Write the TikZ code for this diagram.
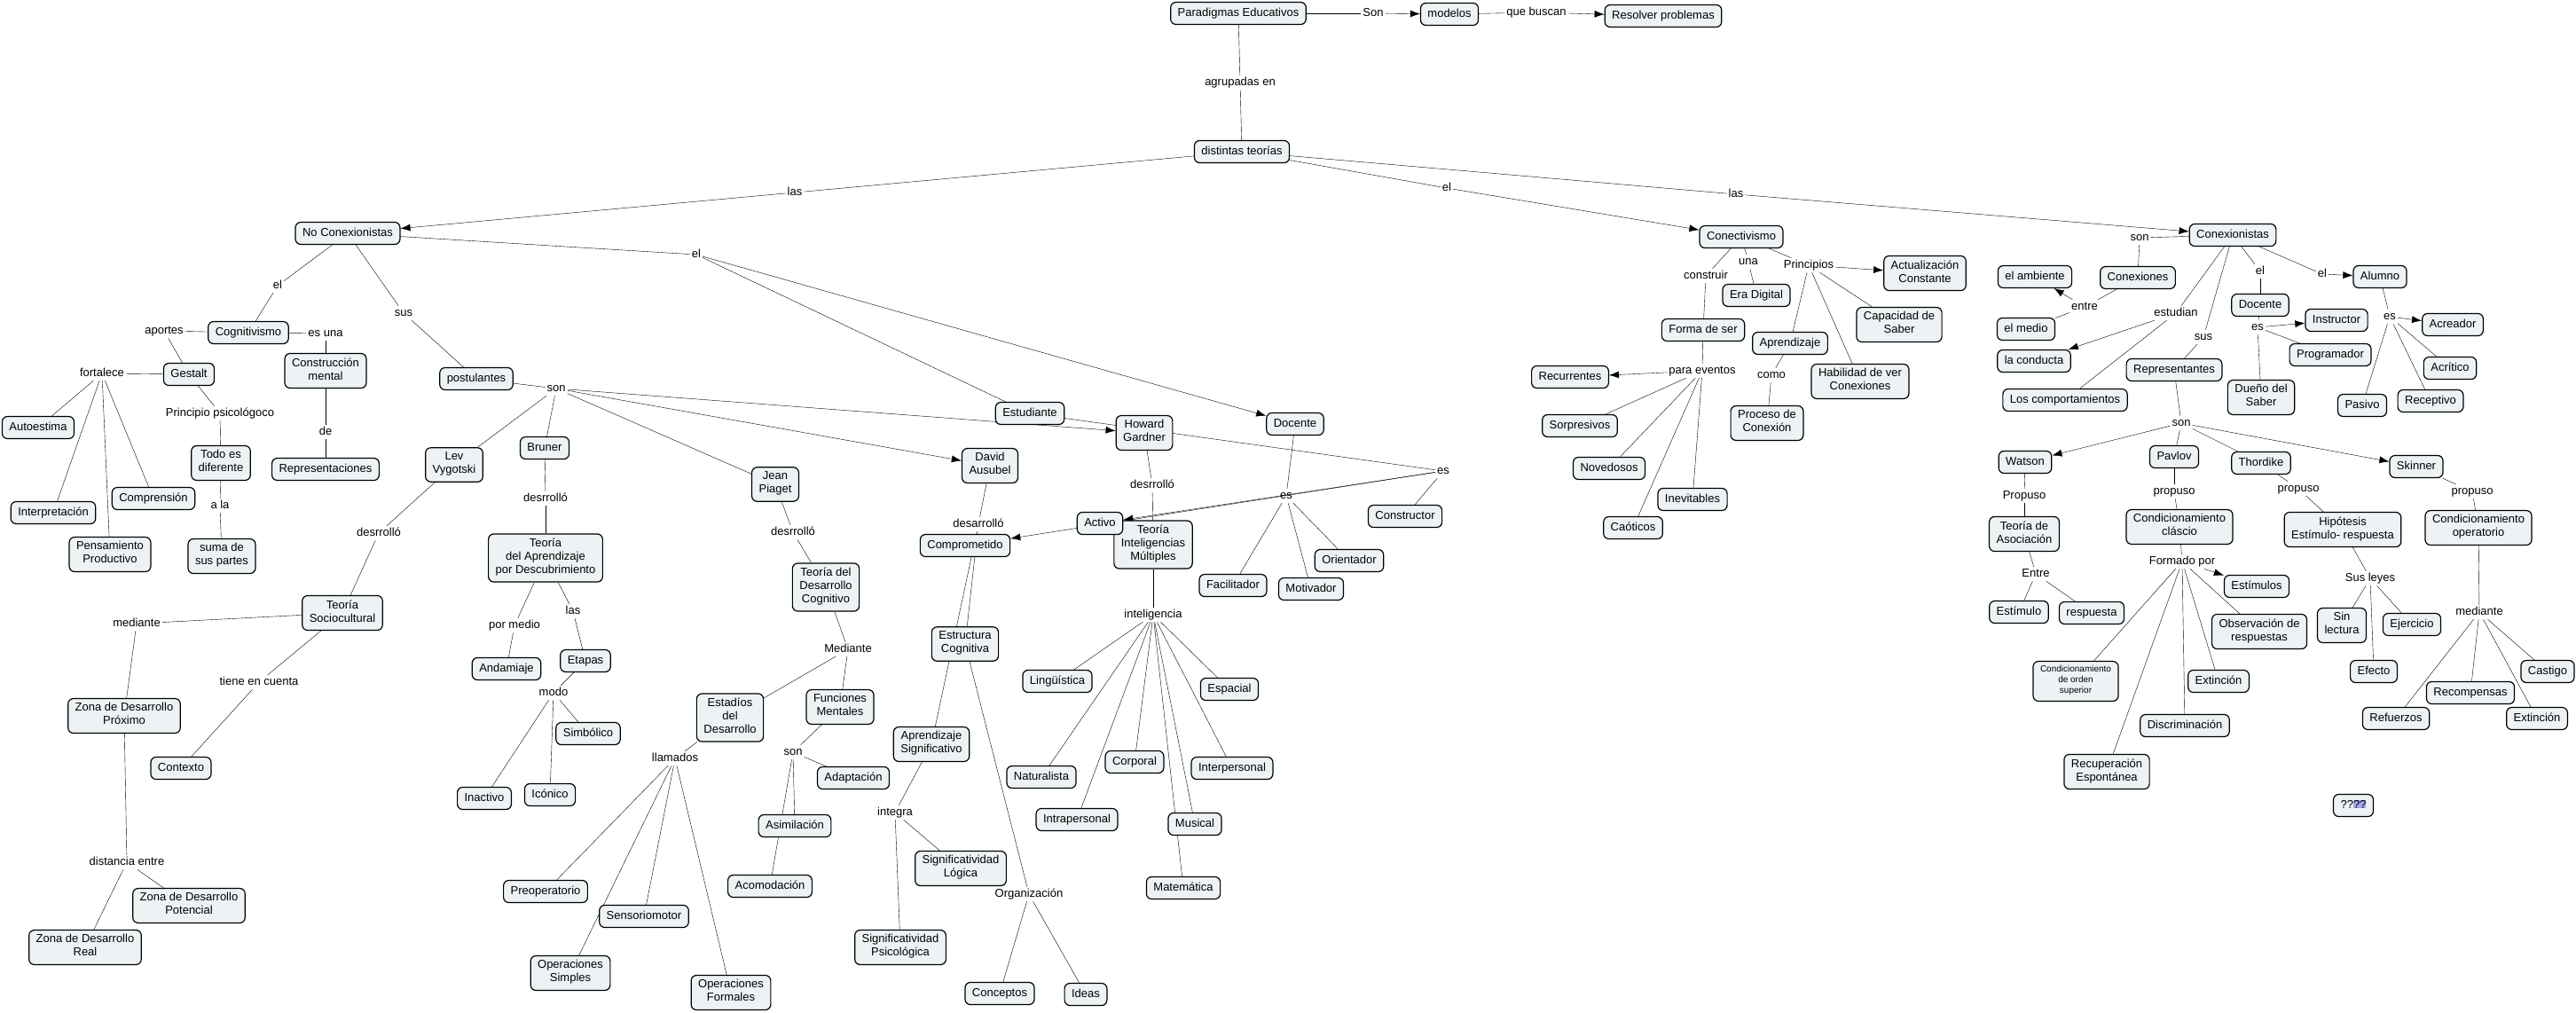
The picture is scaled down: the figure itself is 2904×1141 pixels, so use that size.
\documentclass[tikz,border=0pt]{standalone}
\usepackage{fontspec}
\setmainfont{Liberation Sans}
\usepackage{tikz}
\usetikzlibrary{arrows.meta}
\tikzset{>={Latex[length=11pt,width=8pt]}}
\definecolor{cmapfill}{RGB}{237,243,245}
\definecolor{hilite}{RGB}{166,166,242}
\newcommand{\cmapfont}{\fontsize{13}{15}\selectfont}
\newcommand{\smallcmap}{\fontsize{10}{12}\selectfont}
\pgfdeclarelayer{bg}
\pgfsetlayers{bg,main}
\tikzset{
  concept/.style={draw, rounded corners=6pt, fill=cmapfill, inner xsep=8pt, inner ysep=5pt,
    align=center, font=\cmapfont, execute at begin node=\strut, execute at end node=\strut},
  phrase/.style={inner sep=1.5pt, text height=9.5pt, text depth=2.8pt, align=center, font=\cmapfont}
}

\begin{document}
\begin{tikzpicture}[x=1pt, y=-1pt, line width=1.2pt]
  \useasboundingbox (0,0) rectangle (2904,1141);
  % top of the map
  \node[concept] (paradigmas) at (1396,15) {Paradigmas Educativos};
  \node[phrase] (lSon) at (1548,15) {Son};
  \node[concept] (modelos) at (1634,16) {modelos};
  \node[phrase] (lBuscan) at (1732,14) {que buscan};
  \node[concept] (resolver) at (1875,18) {Resolver problemas};
  \node[phrase] (lAgrupadas) at (1398,93) {agrupadas en};
  \node[concept] (distintas) at (1400,171) {distintas teorías};
  \node[phrase] (lLasL) at (896,217) {las};
  \node[phrase] (lElC) at (1631,212) {el};
  \node[phrase] (lLasR) at (1957,219) {las};

  % no conexionistas
  \node[concept] (nocon) at (392,263) {No Conexionistas};
  \node[phrase] (lElCog) at (313,322) {el};
  \node[phrase] (lSus) at (455,353) {sus};
  \node[phrase] (lElEst) at (785,287) {el};
  \node[concept] (cognitivismo) at (280,375) {Cognitivismo};
  \node[phrase] (lAportes) at (185,373) {aportes};
  \node[phrase] (lEsUna) at (367,376) {es una};
  \node[concept] (gestalt) at (213,422) {Gestalt};
  \node[phrase] (lFortalece) at (115,421) {fortalece};
  \node[concept] (construccion) at (367,418) {Construcción\\mental};
  \node[phrase] (lDe) at (367,487) {de};
  \node[concept] (representaciones) at (367,529) {Representaciones};
  \node[concept] (autoestima) at (43,482) {Autoestima};
  \node[concept] (interpretacion) at (60,578) {Interpretación};
  \node[concept] (comprension) at (173,562) {Comprensión};
  \node[concept] (pensamiento) at (124,625) {Pensamiento\\Productivo};
  \node[phrase] (lPrincipio) at (248,466) {Principio psicológoco};
  \node[concept] (todo) at (249,522) {Todo es\\diferente};
  \node[phrase] (lALa) at (248,570) {a la};
  \node[concept] (suma) at (250,627) {suma de\\sus partes};

  % postulantes
  \node[concept] (postulantes) at (537,427) {postulantes};
  \node[phrase] (lSonP) at (627,438) {son};
  \node[concept] (vygotski) at (512,524) {Lev\\Vygotski};
  \node[concept] (bruner) at (614,505) {Bruner};
  \node[concept] (piaget) at (874,546) {Jean\\Piaget};
  \node[concept] (ausubel) at (1116,525) {David\\Ausubel};
  \node[concept] (gardner) at (1290,488) {Howard\\Gardner};

  % Vygotski
  \node[phrase] (lDesVyg) at (427,601) {desrrolló};
  \node[concept] (sociocultural) at (386,691) {Teoría\\Sociocultural};
  \node[phrase] (lMediante) at (154,703) {mediante};
  \node[phrase] (lTiene) at (292,769) {tiene en cuenta};
  \node[concept] (zdp) at (140,807) {Zona de Desarrollo\\Próximo};
  \node[concept] (contexto) at (204,866) {Contexto};
  \node[phrase] (lDistancia) at (143,972) {distancia entre};
  \node[concept] (zdpot) at (213,1021) {Zona de Desarrollo\\Potencial};
  \node[concept] (zdreal) at (96,1068) {Zona de Desarrollo\\Real};

  % Bruner
  \node[phrase] (lDesBru) at (615,562) {desrrolló};
  \node[concept] (descubrimiento) at (615,629) {Teoría\\del Aprendizaje\\por Descubrimiento};
  \node[phrase] (lPorMedio) at (580,705) {por medio};
  \node[phrase] (lLasB) at (646,689) {las};
  \node[concept] (andamiaje) at (571,754) {Andamiaje};
  \node[concept] (etapas) at (660,745) {Etapas};
  \node[phrase] (lModo) at (624,781) {modo};
  \node[concept] (simbolico) at (663,827) {Simbólico};
  \node[concept] (inactivo) at (546,900) {Inactivo};
  \node[concept] (iconico) at (620,896) {Icónico};

  % Piaget
  \node[phrase] (lDesPia) at (894,600) {desrrolló};
  \node[concept] (tdc) at (931,662) {Teoría del\\Desarrollo\\Cognitivo};
  \node[phrase] (lMedianteP) at (956,732) {Mediante};
  \node[concept] (estadios) at (823,809) {Estadíos\\del\\Desarrollo};
  \node[concept] (funciones) at (947,797) {Funciones\\Mentales};
  \node[phrase] (lLlamados) at (761,855) {llamados};
  \node[concept] (preoperatorio) at (615,1005) {Preoperatorio};
  \node[concept] (sensoriomotor) at (726,1033) {Sensoriomotor};
  \node[concept] (opsimples) at (643,1097) {Operaciones\\Simples};
  \node[concept] (opformales) at (824,1119) {Operaciones\\Formales};
  \node[phrase] (lSonF) at (894,848) {son};
  \node[concept] (adaptacion) at (962,877) {Adaptación};
  \node[concept] (asimilacion) at (896,931) {Asimilación};
  \node[concept] (acomodacion) at (868,999) {Acomodación};

  % Ausubel
  \node[phrase] (lDesAus) at (1103,591) {desarrolló};
  \node[concept] (comprometido) at (1088,615) {Comprometido};
  \node[concept] (estructura) at (1088,726) {Estructura\\Cognitiva};
  \node[concept] (aprsig) at (1050,839) {Aprendizaje\\Significativo};
  \node[phrase] (lIntegra) at (1009,916) {integra};
  \node[concept] (siglogica) at (1083,979) {Significatividad\\Lógica};
  \node[concept] (sigpsico) at (1015,1068) {Significatividad\\Psicológica};
  \node[phrase] (lOrganizacion) at (1160,1008) {Organización};
  \node[concept] (conceptos) at (1127,1120) {Conceptos};
  \node[concept] (ideas) at (1224,1121) {Ideas};

  % Gardner
  \node[phrase] (lDesGar) at (1299,547) {desrrolló};
  \node[concept] (tim) at (1300,614) {Teoría\\Inteligencias\\Múltiples};
  \node[phrase] (lInteligencia) at (1300,693) {inteligencia};
  \node[concept] (linguistica) at (1192,768) {Lingüística};
  \node[concept] (espacial) at (1386,777) {Espacial};
  \node[concept] (naturalista) at (1174,876) {Naturalista};
  \node[concept] (corporal) at (1279,859) {Corporal};
  \node[concept] (interpersonal) at (1389,866) {Interpersonal};
  \node[concept] (intrapersonal) at (1214,924) {Intrapersonal};
  \node[concept] (musical) at (1347,929) {Musical};
  \node[concept] (matematica) at (1334,1001) {Matemática};

  % estudiante and docente
  \node[concept] (estudiante) at (1161,466) {Estudiante};
  \node[concept] (docente) at (1460,478) {Docente};
  \node[phrase] (lEsEst) at (1627,531) {es};
  \node[phrase] (lEsDoc) at (1450,559) {es};
  \node[concept] (activo) at (1240,590) {Activo};
  \node[concept] (constructor) at (1584,582) {Constructor};
  \node[concept] (orientador) at (1521,632) {Orientador};
  \node[concept] (facilitador) at (1390,660) {Facilitador};
  \node[concept] (motivador) at (1478,664) {Motivador};

  % conectivismo
  \node[concept] (conectivismo) at (1963,267) {Conectivismo};
  \node[phrase] (lUna) at (1971,295) {una};
  \node[phrase] (lConstruir) at (1923,311) {construir};
  \node[phrase] (lPrincipios) at (2039,299) {Principios};
  \node[concept] (eradigital) at (1980,333) {Era Digital};
  \node[concept] (actualizacion) at (2170,308) {Actualización\\Constante};
  \node[concept] (capacidad) at (2141,366) {Capacidad de\\Saber};
  \node[concept] (formaser) at (1920,372) {Forma de ser};
  \node[concept] (aprendizaje) at (2018,387) {Aprendizaje};
  \node[concept] (habilidad) at (2097,430) {Habilidad de ver\\Conexiones};
  \node[phrase] (lParaEventos) at (1919,418) {para eventos};
  \node[concept] (recurrentes) at (1770,425) {Recurrentes};
  \node[phrase] (lComo) at (1997,423) {como};
  \node[concept] (proceso) at (1992,477) {Proceso de\\Conexión};
  \node[concept] (sorpresivos) at (1781,480) {Sorpresivos};
  \node[concept] (novedosos) at (1814,528) {Novedosos};
  \node[concept] (inevitables) at (1908,563) {Inevitables};
  \node[concept] (caoticos) at (1841,595) {Caóticos};

  % conexionistas
  \node[concept] (conexionistas) at (2517,265) {Conexionistas};
  \node[phrase] (lSonC) at (2412,268) {son};
  \node[concept] (conexiones) at (2410,313) {Conexiones};
  \node[phrase] (lEntre) at (2350,346) {entre};
  \node[concept] (ambiente) at (2294,312) {el ambiente};
  \node[concept] (medio) at (2284,371) {el medio};
  \node[phrase] (lEstudian) at (2453,353) {estudian};
  \node[concept] (conducta) at (2293,407) {la conducta};
  \node[concept] (comportamientos) at (2328,451) {Los comportamientos};
  \node[phrase] (lSusC) at (2484,380) {sus};
  \node[concept] (representantes) at (2451,417) {Representantes};
  \node[phrase] (lElDoc) at (2548,306) {el};
  \node[concept] (docenteC) at (2548,344) {Docente};
  \node[phrase] (lElAlu) at (2618,309) {el};
  \node[concept] (alumno) at (2683,312) {Alumno};
  \node[phrase] (lEsDocC) at (2545,369) {es};
  \node[concept] (instructor) at (2634,361) {Instructor};
  \node[concept] (programador) at (2627,400) {Programador};
  \node[concept] (dueno) at (2549,448) {Dueño del\\Saber};
  \node[phrase] (lEsAlu) at (2694,357) {es};
  \node[concept] (acreador) at (2765,366) {Acreador};
  \node[concept] (acritico) at (2762,415) {Acrítico};
  \node[concept] (pasivo) at (2663,457) {Pasivo};
  \node[concept] (receptivo) at (2740,452) {Receptivo};
  \node[phrase] (lSonR) at (2459,477) {son};
  \node[concept] (watson) at (2283,521) {Watson};
  \node[concept] (pavlov) at (2451,515) {Pavlov};
  \node[concept] (thordike) at (2549,522) {Thordike};
  \node[concept] (skinner) at (2724,526) {Skinner};
  \node[phrase] (lPropW) at (2282,559) {Propuso};
  \node[phrase] (lPropP) at (2451,554) {propuso};
  \node[phrase] (lPropT) at (2591,551) {propuso};
  \node[phrase] (lPropS) at (2787,554) {propuso};
  \node[concept] (asociacion) at (2282,602) {Teoría de\\Asociación};
  \node[concept] (clasico) at (2457,594) {Condicionamiento\\cláscio};
  \node[concept] (hipotesis) at (2641,597) {Hipótesis\\Estímulo- respuesta};
  \node[concept] (operatorio) at (2794,595) {Condicionamiento\\operatorio};
  \node[phrase] (lEntreW) at (2295,647) {Entre};
  \node[concept] (estimulo) at (2276,690) {Estímulo};
  \node[concept] (respuesta) at (2358,691) {respuesta};
  \node[phrase] (lFormado) at (2460,633) {Formado por};
  \node[concept] (estimulos) at (2544,661) {Estímulos};
  \node[concept] (observacion) at (2547,712) {Observación de\\respuestas};
  \node[concept, font=\smallcmap] (superior) at (2340,768) {Condicionamiento\\de orden\\superior};
  \node[concept] (extincionP) at (2501,768) {Extinción};
  \node[concept] (discriminacion) at (2463,818) {Discriminación};
  \node[concept] (recuperacion) at (2375,870) {Recuperación\\Espontánea};
  \node[phrase] (lSusLeyes) at (2672,652) {Sus leyes};
  \node[concept] (sinlectura) at (2640,705) {Sin\\lectura};
  \node[concept] (ejercicio) at (2719,704) {Ejercicio};
  \node[concept] (efecto) at (2676,757) {Efecto};
  \node[phrase] (lMedianteS) at (2795,690) {mediante};
  \node[concept] (castigo) at (2872,757) {Castigo};
  \node[concept] (recompensas) at (2785,781) {Recompensas};
  \node[concept] (refuerzos) at (2701,810) {Refuerzos};
  \node[concept] (extincionS) at (2860,810) {Extinción};
  \node[concept] (incognita) at (2653,908) {??{\setlength{\fboxsep}{0pt}\colorbox{hilite}{??}}};

  % connectors, behind the boxes
  \begin{pgfonlayer}{bg}
    \draw (paradigmas) -- (lSon);
    \draw[->] (lSon) -- (modelos);
    \draw (modelos) -- (lBuscan);
    \draw[->] (lBuscan) -- (resolver);
    \draw (paradigmas) -- (lAgrupadas);
    \draw (lAgrupadas) -- (distintas);
    \draw (distintas) -- (lLasL);
    \draw[->] (lLasL) -- (nocon);
    \draw (distintas) -- (lElC);
    \draw[->] (lElC) -- (conectivismo);
    \draw (distintas) -- (lLasR);
    \draw[->] (lLasR) -- (conexionistas);

    % no conexionistas
    \draw (nocon) -- (lElCog);
    \draw (lElCog) -- (cognitivismo);
    \draw (nocon) -- (lSus);
    \draw (lSus) -- (postulantes);
    \draw (nocon) -- (lElEst);
    \draw (lElEst) -- (estudiante);
    \draw[->] (lElEst) -- (docente);
    \draw (cognitivismo) -- (lAportes);
    \draw (lAportes) -- (gestalt);
    \draw (cognitivismo) -- (lEsUna);
    \draw (lEsUna) -- (construccion);
    \draw (construccion) -- (lDe);
    \draw (lDe) -- (representaciones);
    \draw (gestalt) -- (lFortalece);
    \foreach \t in {autoestima,interpretacion,pensamiento,comprension}
      \draw (lFortalece) -- (\t);
    \draw (gestalt) -- (lPrincipio);
    \draw (lPrincipio) -- (todo);
    \draw (todo) -- (lALa);
    \draw (lALa) -- (suma);

    % postulantes
    \draw (postulantes) -- (lSonP);
    \draw (lSonP) -- (vygotski);
    \draw (lSonP) -- (bruner);
    \draw (lSonP) -- (piaget);
    \draw[->] (lSonP) -- (ausubel);
    \draw[->] (lSonP) -- (gardner);
    \draw (vygotski) -- (lDesVyg);
    \draw (lDesVyg) -- (sociocultural);
    \draw (sociocultural) -- (lMediante);
    \draw (lMediante) -- (zdp);
    \draw (sociocultural) -- (lTiene);
    \draw (lTiene) -- (contexto);
    \draw (zdp) -- (lDistancia);
    \draw (lDistancia) -- (zdpot);
    \draw (lDistancia) -- (zdreal);
    \draw (bruner) -- (lDesBru);
    \draw (lDesBru) -- (descubrimiento);
    \draw (descubrimiento) -- (lPorMedio);
    \draw (lPorMedio) -- (andamiaje);
    \draw (descubrimiento) -- (lLasB);
    \draw (lLasB) -- (etapas);
    \draw (etapas) -- (lModo);
    \foreach \t in {simbolico,iconico,inactivo}
      \draw (lModo) -- (\t);
    \draw (piaget) -- (lDesPia);
    \draw (lDesPia) -- (tdc);
    \draw (tdc) -- (lMedianteP);
    \draw (lMedianteP) -- (estadios);
    \draw (lMedianteP) -- (funciones);
    \draw (estadios) -- (lLlamados);
    \foreach \t in {preoperatorio,sensoriomotor,opsimples,opformales}
      \draw (lLlamados) -- (\t);
    \draw (funciones) -- (lSonF);
    \foreach \t in {adaptacion,asimilacion,acomodacion}
      \draw (lSonF) -- (\t);
    \draw (ausubel) -- (lDesAus);
    \draw (lDesAus) -- (estructura);
    \draw (lDesAus) -- (aprsig);
    \draw (estructura) -- (lOrganizacion);
    \draw (lOrganizacion) -- (conceptos);
    \draw (lOrganizacion) -- (ideas);
    \draw (aprsig) -- (lIntegra);
    \draw (lIntegra) -- (siglogica);
    \draw (lIntegra) -- (sigpsico);
    \draw (gardner) -- (lDesGar);
    \draw (lDesGar) -- (tim);
    \draw (tim) -- (lInteligencia);
    \foreach \t in {linguistica,naturalista,intrapersonal,corporal,musical,matematica,interpersonal,espacial}
      \draw (lInteligencia) -- (\t);

    % estudiante and docente
    \draw (estudiante) -- (lEsEst);
    \draw[->] (lEsEst) -- (activo);
    \draw[->] (lEsEst) -- (comprometido);
    \draw (lEsEst) -- (constructor);
    \draw (docente) -- (lEsDoc);
    \foreach \t in {facilitador,motivador,orientador}
      \draw (lEsDoc) -- (\t);

    % conectivismo
    \draw (conectivismo) -- (lUna);
    \draw (lUna) -- (eradigital);
    \draw (conectivismo) -- (lConstruir);
    \draw (lConstruir) -- (formaser);
    \draw (conectivismo) -- (lPrincipios);
    \draw[->] (lPrincipios) -- (actualizacion);
    \foreach \t in {capacidad,aprendizaje,habilidad}
      \draw (lPrincipios) -- (\t);
    \draw (formaser) -- (lParaEventos);
    \draw[->] (lParaEventos) -- (recurrentes);
    \foreach \t in {sorpresivos,novedosos,caoticos,inevitables}
      \draw (lParaEventos) -- (\t);
    \draw (aprendizaje) -- (lComo);
    \draw (lComo) -- (proceso);

    % conexionistas
    \draw (conexionistas) -- (lSonC);
    \draw (lSonC) -- (conexiones);
    \draw (conexiones) -- (lEntre);
    \draw[->] (lEntre) -- (ambiente);
    \draw (lEntre) -- (medio);
    \draw (conexionistas) -- (lEstudian);
    \draw[->] (lEstudian) -- (conducta);
    \draw (lEstudian) -- (comportamientos);
    \draw (conexionistas) -- (lSusC);
    \draw (lSusC) -- (representantes);
    \draw (conexionistas) -- (lElDoc);
    \draw (lElDoc) -- (docenteC);
    \draw (conexionistas) -- (lElAlu);
    \draw[->] (lElAlu) -- (alumno);
    \draw (docenteC) -- (lEsDocC);
    \draw[->] (lEsDocC) -- (instructor);
    \draw (lEsDocC) -- (programador);
    \draw (lEsDocC) -- (dueno);
    \draw (alumno) -- (lEsAlu);
    \draw[->] (lEsAlu) -- (acreador);
    \foreach \t in {acritico,receptivo,pasivo}
      \draw (lEsAlu) -- (\t);
    \draw (representantes) -- (lSonR);
    \draw[->] (lSonR) -- (watson);
    \draw (lSonR) -- (pavlov);
    \draw (lSonR) -- (thordike);
    \draw[->] (lSonR) -- (skinner);
    \draw (watson) -- (lPropW);
    \draw (lPropW) -- (asociacion);
    \draw (asociacion) -- (lEntreW);
    \draw (lEntreW) -- (estimulo);
    \draw (lEntreW) -- (respuesta);
    \draw (pavlov) -- (lPropP);
    \draw (lPropP) -- (clasico);
    \draw (clasico) -- (lFormado);
    \draw[->] (lFormado) -- (estimulos);
    \foreach \t in {observacion,extincionP,discriminacion,recuperacion,superior}
      \draw (lFormado) -- (\t);
    \draw (thordike) -- (lPropT);
    \draw (lPropT) -- (hipotesis);
    \draw (hipotesis) -- (lSusLeyes);
    \foreach \t in {sinlectura,efecto,ejercicio}
      \draw (lSusLeyes) -- (\t);
    \draw (skinner) -- (lPropS);
    \draw (lPropS) -- (operatorio);
    \draw (operatorio) -- (lMedianteS);
    \foreach \t in {refuerzos,recompensas,extincionS,castigo}
      \draw (lMedianteS) -- (\t);
  \end{pgfonlayer}
\end{tikzpicture}
\end{document}
